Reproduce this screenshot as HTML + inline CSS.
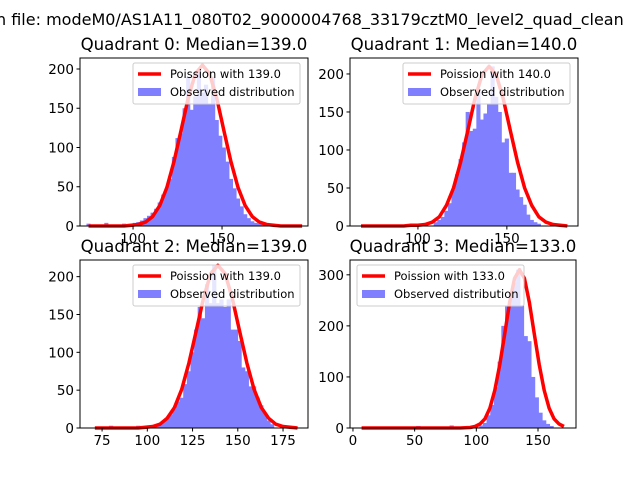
<!DOCTYPE html>
<html><head><meta charset="utf-8"><style>
body{margin:0;background:#fff;width:640px;height:480px;overflow:hidden}
svg{font-family:"DejaVu Sans","Liberation Sans",sans-serif}
</style></head><body>
<svg id="fig" width="640" height="480">
<text x="-4" y="25" font-size="16">n file: modeM0/AS1A11_080T02_9000004768_33179cztM0_level2_quad_clean</text>
</svg>
<script>
// Quadrant 0
const q0BinCenters=[75,85,95,101,103,105,107,109,111,113,115,117,119,121,123,125,127,129,131,133,135,137,139,141,143,145,147,149,151,153,155,157,159,161,163,165,167,169,171,173];
const q0Counts=[3,4,3,4,5,7,10,13,17,22,30,40,48,60,88,112,118,150,190,148,165,200,170,180,155,190,135,115,100,82,60,48,35,25,15,10,6,4,3,2];
const q0CurveX=[75,79,83,87,91,95,99,103,107,111,115,119,123,127,131,135,139,143,147,151,155,159,163,167,171,175,179,183,187,191,195];
const q0CurveY=[0,0,0,0,0,0,1,2,5,12,26,49,82,122,163,194,205,194,163,122,82,49,26,12,5,2,1,0,0,0,0];
// Quadrant 1
const q1BinCenters=[110,112,114,116,118,120,122,124,126,128,130,132,134,136,138,140,142,144,146,148,150,152,154,156,158,160,162,164,166,168];
const q1Counts=[5,8,12,20,30,48,68,88,110,150,125,128,180,140,148,160,210,170,150,110,115,70,70,48,38,28,15,8,5,3];
const q1CurveX=[68,72,76,80,84,88,92,96,100,104,108,112,116,120,124,128,132,136,140,144,148,152,156,160,164,168,172,176,180,184];
const q1CurveY=[0,0,0,0,0,0,0,1,1,2,5,12,27,50,84,125,167,199,210,199,167,125,84,50,27,12,5,2,1,0];
// Quadrant 2
const q2BinCenters=[80,95,103,105,107,109,111,113,115,117,119,121,123,125,127,129,131,133,135,137,139,141,143,145,147,149,151,153,155,157,159,161,163,165,167,169];
const q2Counts=[3,3,3,4,6,8,12,18,25,35,40,58,75,100,130,160,145,190,165,215,165,170,160,170,130,130,115,80,75,55,55,40,30,20,10,5];
const q2CurveX=[71,75,79,83,87,91,95,99,103,107,111,115,119,123,127,131,135,139,143,147,151,155,159,163,167,171,175,179,183];
const q2CurveY=[0,0,0,0,0,0,0,1,2,5,13,27,51,86,128,171,204,215,204,171,128,86,51,27,13,5,2,1,0];
// Quadrant 3
const q3BinCenters=[53,80,84,100,104,107,110,113,116,119,122,125,128,131,134,137,140,143,146,149,152,155,158,161];
const q3Counts=[4,5,3,3,5,10,25,45,80,130,200,240,265,285,310,240,180,170,100,60,30,15,8,4];
const q3CurveX=[7,23,39,55,71,79,87,95,99,103,107,111,115,119,123,127,131,135,139,143,147,151,155,159,163,167,171];
const q3CurveY=[0,0,0,0,0,0,0,1,3,8,18,39,74,124,184,246,293,310,293,246,184,124,74,39,18,8,3];

const panels=[
 {id:'q0',title:'Quadrant 0: Median=139.0',label:'Poission with 139.0',x0:80,x1:308,y0:58,y1:226,xmin:70.2,xmax:198.3,ymax:214,binW:2,bx:q0BinCenters,by:q0Counts,cx:q0CurveX,cy:q0CurveY,xt:[100,150],yt:[0,50,100,150,200],legLeft:false},
 {id:'q1',title:'Quadrant 1: Median=140.0',label:'Poission with 140.0',x0:350,x1:578,y0:58,y1:226,xmin:61.8,xmax:190,ymax:221,binW:2,bx:q1BinCenters,by:q1Counts,cx:q1CurveX,cy:q1CurveY,xt:[100,150],yt:[0,50,100,150,200],legLeft:false},
 {id:'q2',title:'Quadrant 2: Median=139.0',label:'Poission with 139.0',x0:80,x1:308,y0:260,y1:428,xmin:62.8,xmax:188.8,ymax:222,binW:2,bx:q2BinCenters,by:q2Counts,cx:q2CurveX,cy:q2CurveY,xt:[75,100,125,150,175],yt:[0,50,100,150,200],legLeft:false},
 {id:'q3',title:'Quadrant 3: Median=133.0',label:'Poission with 133.0',x0:350,x1:576,y0:260,y1:428,xmin:-2.4,xmax:180.8,ymax:329,binW:3,bx:q3BinCenters,by:q3Counts,cx:q3CurveX,cy:q3CurveY,xt:[0,50,100,150],yt:[0,100,200,300],legLeft:true}
];
const NS='http://www.w3.org/2000/svg';
const svg=document.getElementById('fig');
function mk(tag,attrs,parent){const e=document.createElementNS(NS,tag);for(const k in attrs)e.setAttribute(k,attrs[k]);(parent||svg).appendChild(e);return e;}
panels.forEach(p=>{
 const g=mk('g',{});
 
 
 const sx=v=>p.x0+(v-p.xmin)/(p.xmax-p.xmin)*(p.x1-p.x0);
 const sy=v=>p.y1-v/p.ymax*(p.y1-p.y0);
 p.bx.forEach((c,i)=>{
  const r=mk('rect',{x:sx(c-p.binW/2)-0.3,y:sy(p.by[i]),width:sx(c+p.binW/2)-sx(c-p.binW/2)+0.6,height:p.y1-sy(p.by[i]),fill:'#8080ff'},g);
  
  
 });
 const pts=p.cx.map((x,i)=>sx(x)+','+sy(p.cy[i])).join(' ');
 const pl=mk('polyline',{points:pts,fill:'none',stroke:'#ff0000','stroke-width':3.5,'stroke-linejoin':'round'},g);
 
 
 const fr=mk('rect',{x:p.x0,y:p.y0,width:p.x1-p.x0,height:p.y1-p.y0,fill:'none',stroke:'#000','stroke-width':1},g);
 
 
 p.xt.forEach(t=>{
  mk('line',{x1:sx(t),x2:sx(t),y1:p.y1,y2:p.y1+3.5,stroke:'#000'},g);
  const tx=mk('text',{x:sx(t),y:p.y1+17,'font-size':13.5,'text-anchor':'middle'},g);tx.textContent=t;
  
  
 });
 p.yt.forEach(t=>{
  mk('line',{x1:p.x0-3.5,x2:p.x0,y1:sy(t),y2:sy(t),stroke:'#000'},g);
  const tx=mk('text',{x:p.x0-6,y:sy(t)+5,'font-size':13.5,'text-anchor':'end'},g);tx.textContent=t;
  
  
 });
 const ti=mk('text',{x:(p.x0+p.x1)/2,y:p.y0-8,'font-size':16.6,'text-anchor':'middle'},g);ti.textContent=p.title;
 
 
 const lw=167,lx=p.legLeft?p.x0+7:p.x1-lw-8,ly=p.y0+5;
 const lg=mk('g',{},g);
 
 
 mk('rect',{x:lx,y:ly,width:lw,height:41,rx:2,fill:'#fff','fill-opacity':0.8,stroke:'#ccc','stroke-width':1},lg);
 mk('line',{x1:lx+5,x2:lx+28,y1:ly+11,y2:ly+11,stroke:'#ff0000','stroke-width':3.5},lg);
 const t1=mk('text',{x:lx+37,y:ly+15,'font-size':11.5},lg);t1.textContent=p.label;
 
 
 mk('rect',{x:lx+5,y:ly+25,width:23,height:8,fill:'#8080ff'},lg);
 const t2=mk('text',{x:lx+37,y:ly+33,'font-size':11.5},lg);t2.textContent='Observed distribution';
 
 
});
</script>
</body></html>
